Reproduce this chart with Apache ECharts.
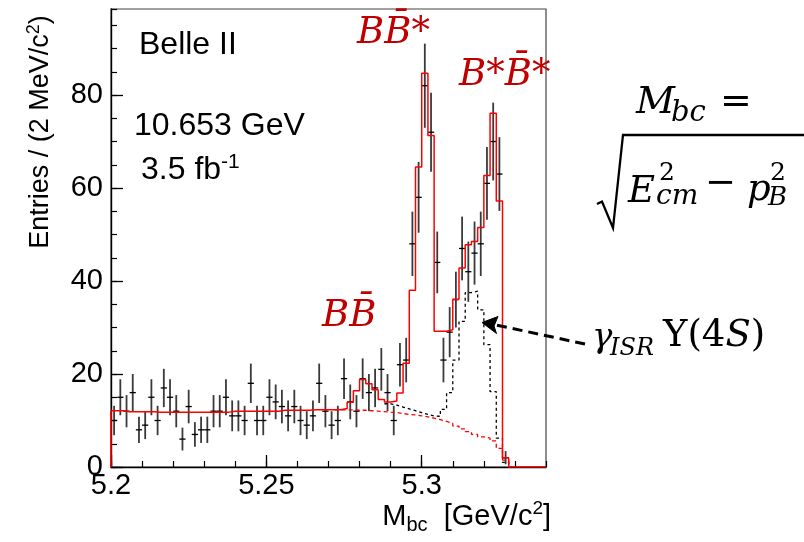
<!DOCTYPE html>
<html><head><meta charset="utf-8">
<script src="https://cdn.jsdelivr.net/npm/echarts@6/dist/echarts.min.js"></script>
<style>html,body{margin:0;padding:0;background:#fff}#c{width:804px;height:542px}</style>
</head><body><div id="c"></div>
<script>
// ---- data (2 MeV bins starting at 5.200 GeV/c^2) ----
const binLow = 5.2;
const binWidth = 0.002;
const counts = [10,15,12,16,8,9,15,10,17,15, 12,6,13,7,8,8,12,12,15,11,
                11,10,18,10,10,15,14,13,11,13, 10,9,11,18,12,9,10,19,14,12,
                19,16,17,21,16,10,22,23,48,58, 82,72,44,23,29,36,47,42,46,48,
                61,70,63,2,0,0,0,0,0,0];
const fitTotal = [12.1,12.1,11.9,11.9,11.9,11.9,11.9,11.8,11.8,11.8,
                  11.8,11.8,11.8,11.8,11.8,11.8,11.8,11.8,11.8,12.0,
                  12.0,12.0,12.0,12.0,12.0,12.0,12.0,12.2,12.2,12.2,
                  12.2,12.2,12.3,12.3,12.3,12.3,12.3,12.6,13.9,16.4,
                  18.8,17.9,16.6,14.5,14.0,14.2,15.9,22.3,38.0,64.5,
                  84.7,71.3,29.2,29.2,29.5,36.1,42.8,47.8,48.5,51.5,
                  62.7,76.1,57.2,2.0,0,0,0,0,0,0];
const continuumStartBin = 36;
const fitContinuum = [12.3,12.3,12.3,12.2,12.2,12.1,12.0,11.9,11.8,11.7,
                      11.5,11.3,11.2,11.0,10.8,10.5,10.2,9.8,9.4,8.8,
                      8.2,7.6,7.0,6.5,6.2,5.6,4.0,1.5];
const isrStartBin = 44;
const fitIsrPlusContinuum = [13.6,13.3,12.9,12.5,12.1,11.7,11.3,11.0,10.9,12.4,
                             16.0,23.0,31.3,37.5,37.8,33.8,26.3,16.2,6.2,1.0];
const xTickLabels = [5.2, 5.25, 5.3];
const yTickLabels = [0, 20, 40, 60, 80];

// ---- helpers ----
function edge(i){ return +(binLow + i * binWidth).toFixed(4); }
function stepData(values, start){
  const d = [];
  if (start === 0) d.push([edge(0), 0]);
  values.forEach((v, k) => d.push([edge(start + k), v]));
  d.push([edge(start + values.length), start === 0 ? values[values.length - 1] : 0]);
  return d;
}
const errData = [];
counts.forEach((c, i) => { if (c > 0) errData.push([edge(i), edge(i + 1), c, Math.sqrt(c)]); });

const SANS = 'Liberation Sans';
const SERIF = 'DejaVu Serif';
const RED = '#c00000';

function txt(x, y, text, size, opts){
  return {type: 'text', x: x, y: y, z: 100,
    style: Object.assign({text: text, fontSize: size, fontFamily: SANS, fill: '#000',
      align: 'left', verticalAlign: 'middle'}, opts || {})};
}

const chart = echarts.init(document.getElementById('c'), null, {renderer: 'canvas', width: 804, height: 542});

const axisCommonX = {type: 'value', min: 5.2, max: 5.34, gridIndex: 0, position: 'bottom', splitLine: {show: false}};
const axisCommonY = {type: 'value', min: 0, max: 98.5, gridIndex: 0, position: 'left', splitLine: {show: false}};

chart.setOption({
  animation: false,
  backgroundColor: '#fff',
  grid: {left: 111, right: 258, top: 9, bottom: 75, show: true, borderColor: '#444', borderWidth: 1.2, containLabel: false},
  xAxis: [
    Object.assign({}, axisCommonX, {
      interval: 0.05,
      axisLine: {show: true, lineStyle: {color: '#000', width: 1.4}},
      axisTick: {show: true, inside: true, length: 12, lineStyle: {color: '#000', width: 1.3}},
      axisLabel: {show: true, margin: 4, fontSize: 29, fontFamily: SANS, color: '#000',
        showMaxLabel: false, hideOverlap: false,
        formatter: function(v){ const t = xTickLabels.find(t => Math.abs(t - v) < 1e-9); return t === undefined ? '' : String(t); }}
    }),
    Object.assign({}, axisCommonX, {
      interval: 0.01,
      axisLine: {show: false},
      axisTick: {show: true, inside: true, length: 6, lineStyle: {color: '#000', width: 1.2}},
      axisLabel: {show: false}
    })
  ],
  yAxis: [
    Object.assign({}, axisCommonY, {
      interval: 20,
      axisLine: {show: true, lineStyle: {color: '#000', width: 1.4}},
      axisTick: {show: true, inside: true, length: 12, lineStyle: {color: '#000', width: 1.3}},
      axisLabel: {show: true, margin: 8, fontSize: 29, fontFamily: SANS, color: '#000',
        showMaxLabel: false, hideOverlap: false,
        formatter: function(v){ const t = yTickLabels.find(t => Math.abs(t - v) < 1e-9); return t === undefined ? '' : String(t); }}
    }),
    Object.assign({}, axisCommonY, {
      interval: 5,
      axisLine: {show: false},
      axisTick: {show: true, inside: true, length: 6, lineStyle: {color: '#000', width: 1.2}},
      axisLabel: {show: false}
    })
  ],
  series: [
    {
      type: 'custom', name: 'data', xAxisIndex: 0, yAxisIndex: 0, z: 2,
      dimensions: ['lo', 'hi', 'n', 'err'],
      encode: {x: [0, 1], y: [2]},
      data: errData,
      renderItem: function(params, api){
        const lo = api.value(0), hi = api.value(1), n = api.value(2), e = api.value(3);
        const mid = (lo + hi) / 2;
        const pL = api.coord([lo, n]), pR = api.coord([hi, n]);
        const pT = api.coord([mid, n + e]), pB = api.coord([mid, Math.max(n - e, 0)]);
        return {type: 'group', children: [
          {type: 'line', shape: {x1: pT[0], y1: pT[1], x2: pB[0], y2: pB[1]}, style: {stroke: '#3a3a3a', lineWidth: 1.8}},
          {type: 'line', shape: {x1: pL[0], y1: pL[1], x2: pR[0], y2: pR[1]}, style: {stroke: '#000', lineWidth: 1.3}}
        ]};
      }
    },
    {
      type: 'line', name: 'continuum', xAxisIndex: 0, yAxisIndex: 0, z: 3,
      step: 'end', symbol: 'none', data: stepData(fitContinuum, continuumStartBin),
      lineStyle: {color: '#ff0000', width: 1.3, type: [4, 3]}
    },
    {
      type: 'line', name: 'isr', xAxisIndex: 0, yAxisIndex: 0, z: 3,
      step: 'end', symbol: 'none', data: stepData(fitIsrPlusContinuum, isrStartBin),
      lineStyle: {color: '#000', width: 1.3, type: [3, 3]}
    },
    {
      type: 'line', name: 'total', xAxisIndex: 0, yAxisIndex: 0, z: 4,
      step: 'end', symbol: 'none', data: stepData(fitTotal, 0),
      lineStyle: {color: '#ff0000', width: 1.5}
    }
  ],
  graphic: [
    // axis titles
    {type: 'text', x: 41, y: 132, rotation: Math.PI / 2, z: 100,
      style: {text: 'Entries / (2 MeV/c{s|2})', fontSize: 27, fontFamily: SANS, fill: '#000',
        align: 'center', verticalAlign: 'middle', lineHeight: 32,
        rich: {s: {fontSize: 18, fontFamily: SANS, fill: '#000', verticalAlign: 'top', lineHeight: 14}}}},
    {type: 'text', x: 551, y: 517, z: 100,
      style: {text: 'M{b|bc}  [GeV/c{s|2}]', fontSize: 29, fontFamily: SANS, fill: '#000',
        align: 'right', verticalAlign: 'middle', lineHeight: 36,
        rich: {b: {fontSize: 20, fontFamily: SANS, fill: '#000', verticalAlign: 'bottom', lineHeight: 14},
               s: {fontSize: 19, fontFamily: SANS, fill: '#000', verticalAlign: 'top', lineHeight: 14}}}},
    // in-plot labels
    txt(139, 45, 'Belle II', 32),
    txt(134, 126, '10.653 GeV', 32),
    {type: 'text', x: 141, y: 170, z: 100,
      style: {text: '3.5 fb{s|-1}', fontSize: 32, fontFamily: SANS, fill: '#000',
        align: 'left', verticalAlign: 'middle', lineHeight: 36,
        rich: {s: {fontSize: 21, fontFamily: SANS, fill: '#000', verticalAlign: 'top', lineHeight: 16}}}},
    // red peak labels
    txt(357, 33, 'BB\u0304*', 37, {fontFamily: SERIF, fontStyle: 'italic', fill: RED}),
    txt(459, 75, 'B*B\u0304*', 37, {fontFamily: SERIF, fontStyle: 'italic', fill: RED}),
    txt(322, 316, 'BB\u0304', 37, {fontFamily: SERIF, fontStyle: 'italic', fill: RED}),
    // formula: M_bc = sqrt(E_cm^2 - p_B^2)
    txt(636, 103, 'M', 38, {fontFamily: SERIF, fontStyle: 'italic'}),
    txt(671, 113, 'bc', 29, {fontFamily: SERIF, fontStyle: 'italic'}),
    txt(720, 103, '=', 38, {fontFamily: SERIF}),
    {type: 'polyline', z: 100, shape: {points: [[597, 204], [602, 201.5], [613, 228], [623, 135], [806, 135]]},
      style: {stroke: '#000', lineWidth: 2.3, fill: null, lineJoin: 'miter'}},
    txt(628, 192, 'E', 37, {fontFamily: SERIF, fontStyle: 'italic'}),
    txt(659, 173, '2', 25, {fontFamily: SERIF}),
    txt(656, 197, 'cm', 28, {fontFamily: SERIF, fontStyle: 'italic'}),
    txt(705, 184, '\u2212', 37, {fontFamily: SERIF}),
    txt(747, 190, 'p', 37, {fontFamily: SERIF, fontStyle: 'italic'}),
    txt(770, 173, '2', 25, {fontFamily: SERIF}),
    txt(768, 198, 'B', 26, {fontFamily: SERIF, fontStyle: 'italic'}),
    // ISR label and arrow
    txt(592, 338, '\u03B3', 34, {fontFamily: SERIF, fontStyle: 'italic'}),
    txt(610, 349, 'ISR', 24, {fontFamily: SERIF, fontStyle: 'italic'}),
    {type: 'text', x: 663, y: 336, z: 100,
      style: {text: '\u03A5(4{i|S})', fontSize: 37, fontFamily: SERIF, fill: '#000', align: 'left', verticalAlign: 'middle',
        rich: {i: {fontSize: 37, fontFamily: SERIF, fontStyle: 'italic', fill: '#000'}}}},
    {type: 'line', z: 100, shape: {x1: 585, y1: 344, x2: 496, y2: 325},
      style: {stroke: '#000', lineWidth: 3, lineDash: [10, 6]}},
    {type: 'polygon', z: 100, shape: {points: [[482, 322.5], [498, 316.5], [494, 326], [496.5, 333.5]]},
      style: {fill: '#000', stroke: '#000', lineWidth: 1}}
  ]
});
</script>
</body></html>
